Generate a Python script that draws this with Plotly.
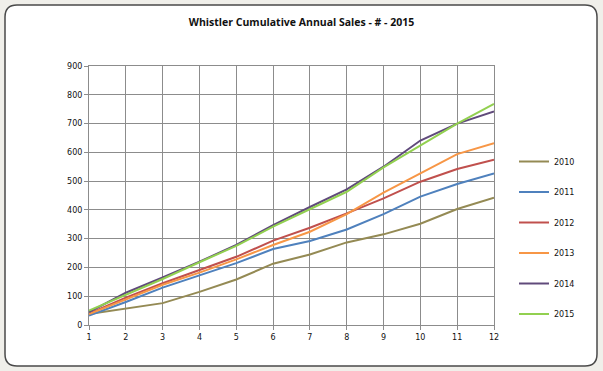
import plotly.graph_objects as go

months = list(range(1, 13))
tick_labels = [str(m) for m in months]
y_ticks = list(range(0, 901, 100))

series_names = ["2010", "2011", "2012", "2013", "2014", "2015"]
s2010 = [38, 58, 76, 115, 158, 213, 245, 287, 315, 352, 403, 442]
s2011 = [33, 80, 130, 172, 215, 264, 292, 332, 385, 446, 490, 527]
s2012 = [40, 95, 145, 190, 237, 293, 338, 388, 440, 498, 542, 574]
s2013 = [38, 90, 140, 182, 228, 278, 324, 385, 460, 527, 594, 632]
s2014 = [45, 112, 165, 220, 278, 347, 410, 471, 550, 641, 700, 742]
s2015 = [50, 105, 160, 218, 275, 342, 402, 463, 548, 625, 700, 768]
series_values = [s2010, s2011, s2012, s2013, s2014, s2015]
colors = ["#948A54", "#4F81BD", "#C0504D", "#F79646", "#604A7B", "#92D050"]

W, H = 603, 371
L, R, T, B = 89, 109, 66, 46

fig = go.Figure()
for i, (name, vals, c) in enumerate(zip(series_names, series_values, colors)):
    fig.add_trace(go.Scatter(x=months, y=vals, mode="lines", name=name,
                             legendgroup=name,
                             line=dict(color=c, width=2)))

# rounded border in paper coords
pw = W - L - R
ph = H - T - B
def px(x):
    return (x - L) / pw
def py(y):
    return (H - B - y) / ph
x0, x1, y0, y1, r = 5, 597, 5, 366, 12
path = (f"M {px(x0+r)},{py(y0)} L {px(x1-r)},{py(y0)} "
        f"Q {px(x1)},{py(y0)} {px(x1)},{py(y0+r)} L {px(x1)},{py(y1-r)} "
        f"Q {px(x1)},{py(y1)} {px(x1-r)},{py(y1)} L {px(x0+r)},{py(y1)} "
        f"Q {px(x0)},{py(y1)} {px(x0)},{py(y1-r)} L {px(x0)},{py(y0+r)} "
        f"Q {px(x0)},{py(y0)} {px(x0+r)},{py(y0)} Z")
fig.add_shape(type="path", path=path, xref="paper", yref="paper",
              line=dict(color="#4a4a4a", width=1.5), fillcolor="white", layer="below")

fig.update_layout(
    width=W, height=H,
    margin=dict(l=L, r=R, t=T, b=B, autoexpand=False),
    paper_bgcolor="#F0EFEA",
    plot_bgcolor="rgba(0,0,0,0)",
    title=dict(text="<b>Whistler Cumulative Annual Sales - # - 2015</b>",
               x=0.5, xref="container", y=1 - 22 / H, yanchor="middle",
               font=dict(family="Open Sans", size=10.5, color="#111")),
    showlegend=True,
    legend=dict(x=1 + (514 - 494) / pw, xanchor="left", y=py(147), yanchor="top",
                font=dict(family="DejaVu Sans", size=8, color="#111"),
                tracegroupgap=11.5, itemwidth=30, bgcolor="rgba(0,0,0,0)"),
    xaxis=dict(range=[1, 12], tickvals=months, ticktext=tick_labels,
               showgrid=True, gridcolor="#8C8C8C", gridwidth=1,
               showline=True, linecolor="#8C8C8C", linewidth=1, mirror=True,
               ticks="outside", ticklen=4, tickcolor="#8C8C8C",
               tickfont=dict(family="DejaVu Sans", size=8, color="#111"),
               zeroline=False),
    yaxis=dict(range=[0, 900], tickvals=y_ticks,
               showgrid=True, gridcolor="#8C8C8C", gridwidth=1,
               showline=True, linecolor="#8C8C8C", linewidth=1, mirror=True,
               ticks="outside", ticklen=4, tickcolor="#8C8C8C",
               tickfont=dict(family="DejaVu Sans", size=8, color="#111"),
               zeroline=False),
)

fig.write_html("out.html", config={"displayModeBar": False},
               post_script="document.body.style.margin='0';")
